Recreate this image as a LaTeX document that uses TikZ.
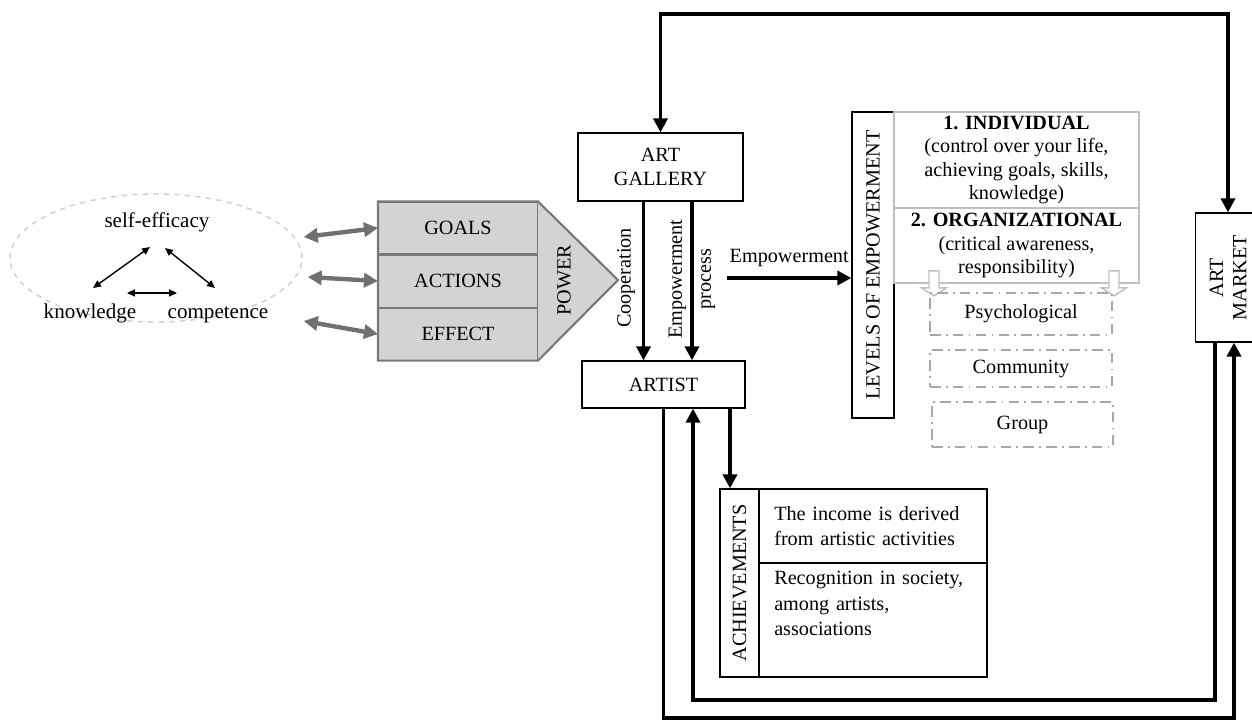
\documentclass[tikz,border=0pt]{standalone}
\usepackage{fontspec}
\setmainfont{Liberation Serif}
\usetikzlibrary{arrows.meta,shapes.geometric,positioning}
\definecolor{powerfill}{RGB}{211,211,211}
\definecolor{powerline}{RGB}{120,120,120}
\definecolor{grayarrow}{RGB}{112,112,112}
\definecolor{softline}{RGB}{192,192,192}
\definecolor{dashline}{RGB}{168,168,168}
\definecolor{ovalline}{RGB}{205,205,205}
\begin{document}
\begin{tikzpicture}[
  x=0.02cm, y=-0.02cm,
  every node/.style={font=\fontsize{11.5}{13.2}\selectfont},
  small/.style={font=\fontsize{12}{14}\selectfont, text height=8.5pt, text depth=2.5pt},
  box/.style={draw, line width=0.7pt, align=center, inner sep=1pt},
  power/.style={draw=powerline, fill=powerfill, line width=0.6pt, minimum width=3.18cm, minimum height=1.04cm},
  level/.style={draw=softline, line width=1pt, align=center, inner sep=1pt, minimum width=4.9cm},
  kind/.style={draw=dashline, line width=1pt, dash pattern=on 6pt off 3pt on 1pt off 3pt, minimum width=3.64cm},
  cell/.style={draw, line width=0.7pt, align=left, text width=3.95cm, inner xsep=8pt, minimum width=4.56cm, font=\fontsize{11.5}{14.5}\selectfont},
  arrow/.style={-{Triangle[length=8pt,width=8pt]}, line width=2.2pt},
  bothways/.style={{Triangle[length=8pt,width=8pt]}-{Triangle[length=8pt,width=8pt]}, line width=2.2pt},
  twoway/.style={{Triangle[length=4.5pt,width=4pt]}-{Triangle[length=4.5pt,width=4pt]}, line width=0.8pt},
  grayway/.style={{Triangle[length=8pt,width=8pt]}-{Triangle[length=8pt,width=8pt]}, draw=grayarrow, line width=2.5pt},
  hollow/.style={draw=softline, fill=white, line width=0.8pt}
]
\useasboundingbox (0,0) rectangle (1252,722);

\node[ellipse, draw=ovalline, dashed, line width=0.8pt, minimum width=5.84cm, minimum height=2.56cm] (skills) at (156,258) {};
\node[small] (efficacy) at (157,222) {self-efficacy};
\node[small] (knowledge) at (90,313) {knowledge};
\node[small] (competence) at (218,313) {competence};
\draw[twoway] ([shift={(-7,25)}]efficacy.center) -- ([shift={(3,-25)}]knowledge.center);
\draw[twoway] ([shift={(8,26)}]efficacy.center) -- ([shift={(-3,-25)}]competence.center);
\draw[twoway] ([shift={(37,-20)}]knowledge.center) -- ([shift={(-41,-20)}]competence.center);

\node[power] (goals) at (458,228) {GOALS};
\node[power, below=0pt of goals] (actions) {ACTIONS};
\node[power, below=0pt of actions] (effect) {EFFECT};
\coordinate (tip) at (618,280);
\fill[powerfill] (goals.north east) -- (tip) -- (effect.south east) -- cycle;
\draw[powerline, line width=1.2pt] (goals.north west) -- (goals.north east) -- (tip) -- (effect.south east) -- (effect.south west) -- cycle;
\node[rotate=90] (powerlabel) at (564,280) {POWER};

\draw[grayway] ([shift={(1,-21)}]skills.east) -- (goals.west);
\draw[grayway] ([shift={(5,19)}]skills.east) -- (actions.west);
\draw[grayway] ([shift={(1,63)}]skills.east) -- (effect.west);

\node[box, minimum width=3.3cm, minimum height=1.36cm] (gallery) at (660.5,167) {ART\\GALLERY};
\node[box, minimum width=3.26cm, minimum height=0.94cm] (artist) at (663.5,384.5) {ARTIST};
\node[rotate=90] (cooplabel) at (626,278) {Cooperation};
\node[rotate=90, align=center, font=\fontsize{11.5}{16.5}\selectfont] (proclabel) at (692,279) {Empowerment\\process};
\draw[arrow] ([shift={(-17,0)}]gallery.south) -- ([shift={(-20,0)}]artist.north);
\draw[arrow] ([shift={(31.5,0)}]gallery.south) -- ([shift={(28.5,0)}]artist.north);

\node[box, rotate=90, minimum width=6.12cm, minimum height=0.84cm] (levels) at (873,265) {LEVELS OF EMPOWERMENT};
\coordinate (empstart) at (727,278);
\draw[arrow] (empstart) -- (empstart -| levels.north) node[midway, above=2pt] {Empowerment};

\node[level, minimum height=1.92cm] (individual) at (1016.5,160) {\textbf{1. INDIVIDUAL}\\(control over your life,\\achieving goals, skills,\\knowledge)};
\node[level, minimum height=1.5cm] (organizational) at (1016.5,245.5) {\textbf{2. ORGANIZATIONAL}\\(critical awareness,\\responsibility)};
\foreach \dx in {-87.5,92.5}
  \draw[hollow] ([shift={(\dx,-13)}]organizational.south) -- ++(10,0) -- ++(0,17) -- ++(7.5,0) -- ++(-12.5,8) -- ++(-12.5,-8) -- ++(7.5,0) -- cycle;

\node[kind, minimum height=0.84cm] (psych) at (1021,314) {Psychological};
\node[kind, minimum height=0.74cm] (community) at (1021,368.5) {Community};
\node[kind, minimum height=0.9cm, minimum width=3.62cm] (group) at (1022.5,424.5) {Group};

\node[box, rotate=90, minimum width=2.58cm, minimum height=1.3cm] (market) at (1228,277.5) {ART\\MARKET};
\coordinate (topline) at (0,14);
\draw[bothways] (gallery.north) -- (gallery.north |- topline) -| (market.east);

\node[box, rotate=90, minimum width=3.76cm, minimum height=0.78cm] (achieve) at (739.5,583) {ACHIEVEMENTS};
\node[cell, minimum height=1.48cm] (income) at (873,526) {The income is derived\\from artistic activities};
\node[cell, minimum height=2.28cm] (recognition) at (873,620) {Recognition in society,\\among artists,\\associations\\\strut};
\coordinate (achtop) at ([shift={(66.5,0)}]artist.south);
\draw[arrow] (achtop) -- (achtop |- achieve.east);

\coordinate (lowin) at (0,700);
\coordinate (lowout) at (0,718);
\coordinate (marketin) at ([shift={(-13,0)}]market.west);
\coordinate (marketout) at ([shift={(6,0)}]market.west);
\coordinate (artistin) at ([shift={(29.5,0)}]artist.south);
\draw[arrow] (marketin) -- (marketin |- lowin) -| (artistin);
\draw[arrow] (artist.south) -- (artist.south |- lowout) -| (marketout);
\end{tikzpicture}
\end{document}
